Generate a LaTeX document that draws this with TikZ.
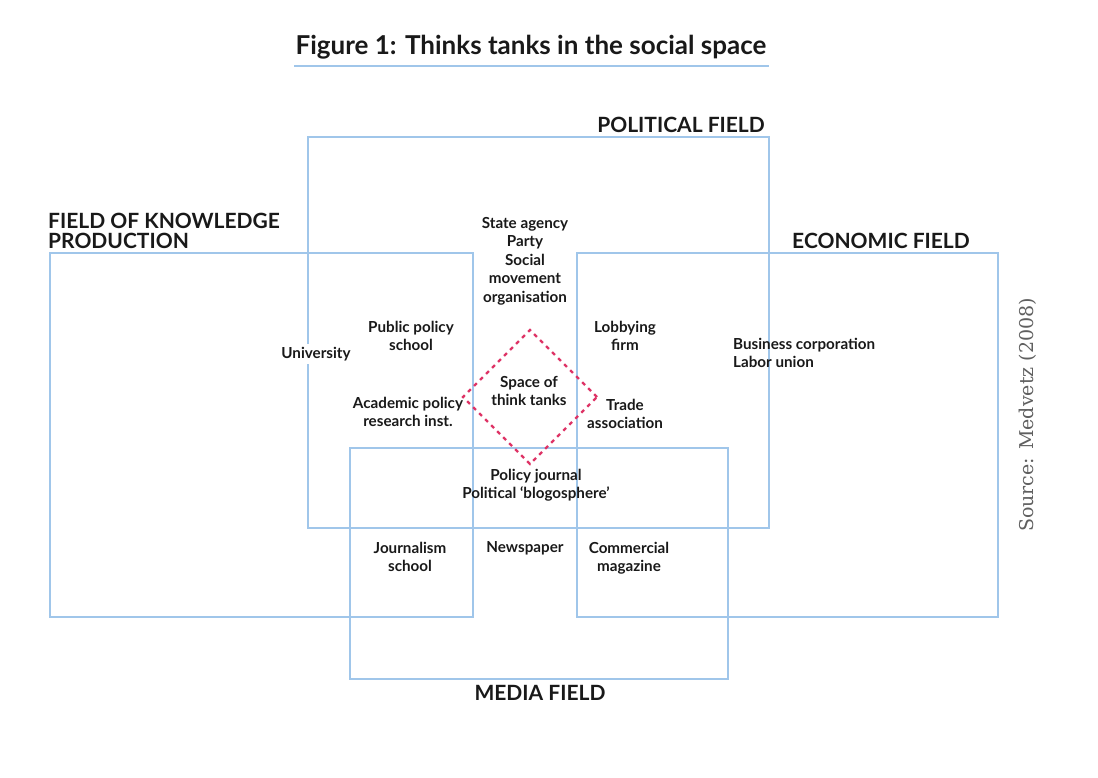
\documentclass[tikz,border=0pt]{standalone}
\usepackage{fontspec}
\setmainfont{Lato}
\newfontfamily\sourcefont{DejaVu Serif}
\usetikzlibrary{shapes.geometric}
\definecolor{fieldblue}{RGB}{160,198,234}
\definecolor{tankpink}{RGB}{222,52,102}
\definecolor{sourcegray}{RGB}{95,95,95}
\begin{document}
\begin{tikzpicture}[x=1pt,y=-1pt]
    \tikzstyle{every node} = [font=\bfseries\fontsize{15.2}{18.5}\selectfont, inner sep=1pt, text=black!90]
    \tikzstyle{field} = [draw=fieldblue, line width=2pt]
    \tikzstyle{fieldname} = [font=\bfseries\fontsize{21}{20}\selectfont]
    \tikzstyle{actor} = [align=center]
    \useasboundingbox (0,0) rectangle (1098,778);

    % title
    \node[font=\bfseries\fontsize{26}{28}\selectfont](title) at (531,47){Figure 1: Thinks tanks in the social space};
    \coordinate (ulA) at (294,66);
    \coordinate (ulB) at (769,66);
    \draw[field] (ulA)--(ulB);

    % fields
    \draw[field] (308,137) rectangle (769,528);
    \draw[field] (50,253) rectangle (473,617);
    \draw[field] (577,253) rectangle (998,617);
    \draw[field] (350,448) rectangle (728,679);

    \node[fieldname,anchor=east](political) at (766,125){POLITICAL FIELD};
    \node[fieldname,anchor=west,align=left](knowledge) at (47,231){FIELD OF KNOWLEDGE\\PRODUCTION};
    \node[fieldname,anchor=east](economic) at (971,241){ECONOMIC FIELD};
    \node[fieldname](media) at (540,693){MEDIA FIELD};

    % space of think tanks
    \node[diamond,draw=tankpink,line width=2.2pt,dash pattern=on 4pt off 4.5pt,minimum width=135pt,minimum height=135pt,inner sep=0pt](space) at (530,397){};
    \node[actor](spaceText) at (529,391){Space of\\think tanks};

    % actors
    \node[actor](stateAgency) at (525,261){State agency\\Party\\Social\\movement\\organisation};
    \node[actor,fill=white,inner sep=3pt](university) at (316,354){University};
    \node[actor](publicPolicy) at (411,336){Public policy\\school};
    \node[actor](lobbying) at (625,336){Lobbying\\firm};
    \node[align=left,anchor=west](business) at (732,353){Business corporation\\Labor union};
    \node[actor](academic) at (408,412){Academic policy\\research inst.};
    \node[actor](trade) at (625,414){Trade\\association};
    \node[actor](policyJournal) at (536,485){Policy journal\\Political ‘blogosphere’};
    \node[actor](journalism) at (410,557){Journalism\\school};
    \node[actor](newspaper) at (525,548){Newspaper};
    \node[actor](commercial) at (629,558){Commercial\\magazine};

    % source
    \node[font=\sourcefont\fontsize{19}{20}\selectfont,text=sourcegray,rotate=90](source) at (1028,415){Source: Medvetz (2008)};
\end{tikzpicture}
\end{document}
